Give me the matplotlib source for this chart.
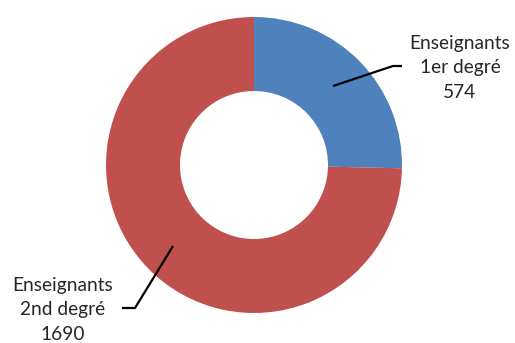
import matplotlib
matplotlib.use("Agg")
import matplotlib.pyplot as plt

# Data
categories = ["Enseignants\n1er degré", "Enseignants\n2nd degré"]
values = [574, 1690]
colors = ["#4F81BD", "#C0504D"]

W, H = 515, 343
fig = plt.figure(figsize=(W / 100, H / 100), dpi=100)
ax = fig.add_axes([0, 0, 1, 1])

cx, cy, r = 254, H - 165, 148
ax.pie(values, colors=colors, startangle=90, counterclock=False,
       center=(cx, cy), radius=r, frame=True,
       wedgeprops=dict(width=r * 0.5, linewidth=0))
ax.set_xlim(0, W)
ax.set_ylim(0, H)
ax.set_aspect("equal")
ax.axis("off")

font = dict(family=["Lato", "DejaVu Sans"], fontsize=13.8, color="#262626",
            ha="center", va="center", linespacing=1.55)

# Leader lines and labels
ax.plot([333, 393, 402], [H - 86, H - 66, H - 66], color="black", lw=1.6,
        solid_capstyle="butt")
ax.text(460, H - 68, f"{categories[0]}\n{values[0]}", **font)

ax.plot([173, 135, 122], [H - 246, H - 308, H - 308], color="black", lw=1.6,
        solid_capstyle="butt")
ax.text(63, H - 310, f"{categories[1]}\n{values[1]}", **font)

fig.savefig("out.png", dpi=100, facecolor="white")
